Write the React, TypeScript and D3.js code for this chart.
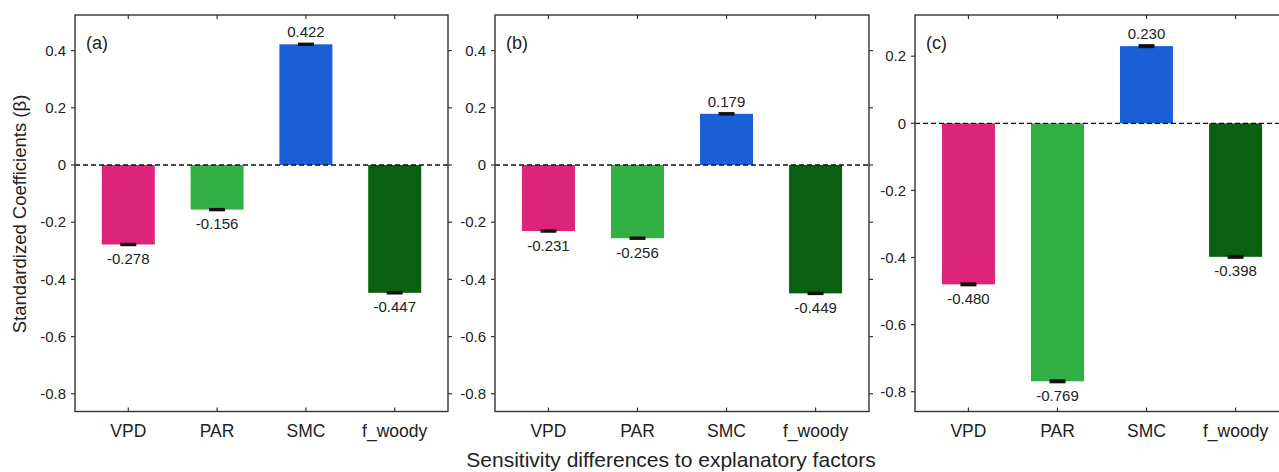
import * as d3 from "d3";
import React from "react";

const categories = ["VPD", "PAR", "SMC", "f_woody"];
const valuesA = [-0.278, -0.156, 0.422, -0.447];
const valuesB = [-0.231, -0.256, 0.179, -0.449];
const valuesC = [-0.48, -0.769, 0.23, -0.398];
const errorsA = [0.006, 0.006, 0.006, 0.006];
const errorsB = [0.006, 0.006, 0.006, 0.006];
const errorsC = [0.006, 0.006, 0.006, 0.006];
const ticksAB = [0.4, 0.2, 0, -0.2, -0.4, -0.6, -0.8];
const ticksC = [0.2, 0, -0.2, -0.4, -0.6, -0.8];
const panelLabels = ["(a)", "(b)", "(c)"];
const colors = ["#dc2478", "#33b045", "#1a5fd6", "#0a6010"];

const FONT = "Arial, 'Liberation Sans', sans-serif";
const TEXT = "#222";
const TOP = 15;
const BOTTOM = 411.5;

const panels = [
  { label: panelLabels[0], values: valuesA, errors: errorsA, ticks: ticksAB, left: 75, right: 448, domain: [-0.862, 0.5245] },
  { label: panelLabels[1], values: valuesB, errors: errorsB, ticks: ticksAB, left: 495, right: 869, domain: [-0.862, 0.5245] },
  { label: panelLabels[2], values: valuesC, errors: errorsC, ticks: ticksC, left: 915, right: 1289, domain: [-0.859, 0.3228] },
];

const Panel = ({ p }) => {
  const x = d3.scalePoint().domain(categories).range([p.left, p.right]).padding(0.6);
  const y = d3.scaleLinear().domain(p.domain).range([BOTTOM, TOP]);
  const barW = 53;
  const fmt = (d) => (d === 0 ? "0" : d.toFixed(1));

  return (
    <g>
      {/* bars */}
      {categories.map((c, i) => {
        const v = p.values[i];
        return (
          <rect
            key={c}
            x={x(c) - barW / 2}
            y={Math.min(y(v), y(0))}
            width={barW}
            height={Math.abs(y(v) - y(0))}
            fill={colors[i]}
          />
        );
      })}

      {/* error caps */}
      {categories.map((c, i) => {
        const v = p.values[i];
        const e = p.errors[i];
        return (
          <rect
            key={"e" + c}
            x={x(c) - 8}
            y={y(v + e)}
            width={16}
            height={y(v - e) - y(v + e)}
            fill="#111"
          />
        );
      })}

      {/* value labels */}
      {categories.map((c, i) => {
        const v = p.values[i];
        return (
          <text
            key={"v" + c}
            x={x(c)}
            y={v >= 0 ? y(v) - 7 : y(v) + 19.5}
            textAnchor="middle"
            fontSize={15}
            fontFamily={FONT}
            fill={TEXT}
          >
            {v.toFixed(3)}
          </text>
        );
      })}

      {/* zero line */}
      <line x1={p.left} x2={p.right} y1={y(0)} y2={y(0)} stroke="#111" strokeWidth={1.3} strokeDasharray="5,3" />

      {/* frame */}
      <rect x={p.left} y={TOP} width={p.right - p.left} height={BOTTOM - TOP} fill="none" stroke="#333" strokeWidth={1.4} />

      {/* y ticks */}
      {p.ticks.map((t) => (
        <g key={"t" + t}>
          <line x1={p.left - 4} x2={p.left} y1={y(t)} y2={y(t)} stroke="#333" strokeWidth={1.2} />
          <line x1={p.right} x2={p.right + 4} y1={y(t)} y2={y(t)} stroke="#333" strokeWidth={1.2} />
          <text
            x={p.left - 9}
            y={y(t)}
            dy="0.35em"
            textAnchor="end"
            fontSize={15}
            fontFamily={FONT}
            fill={TEXT}
          >
            {fmt(t)}
          </text>
        </g>
      ))}

      {/* x ticks and labels */}
      {categories.map((c) => (
        <g key={"x" + c}>
          <line x1={x(c)} x2={x(c)} y1={BOTTOM} y2={BOTTOM - 4} stroke="#333" strokeWidth={1.2} />
          <line x1={x(c)} x2={x(c)} y1={TOP} y2={TOP + 4} stroke="#333" strokeWidth={1.2} />
          <text x={x(c)} y={437} textAnchor="middle" fontSize={17.5} fontFamily={FONT} fill={TEXT}>
            {c}
          </text>
        </g>
      ))}

      <text x={p.left + 11} y={49} fontSize={18} fontFamily={FONT} fill={TEXT}>
        {p.label}
      </text>
    </g>
  );
};

export default function App() {
  return (
    <svg
      width={1279}
      height={472}
      style={{ position: "absolute", left: 0, top: 0, background: "#fff" }}
    >
      {panels.map((p) => (
        <Panel key={p.label} p={p} />
      ))}
      <text
        transform="translate(26,214) rotate(-90)"
        textAnchor="middle"
        fontSize={18.5}
        fontFamily={FONT}
        fill={TEXT}
      >
        Standardized Coefficients (β)
      </text>
      <text x={671} y={467} textAnchor="middle" fontSize={21} fontFamily={FONT} fill={TEXT}>
        Sensitivity differences to explanatory factors
      </text>
    </svg>
  );
}
